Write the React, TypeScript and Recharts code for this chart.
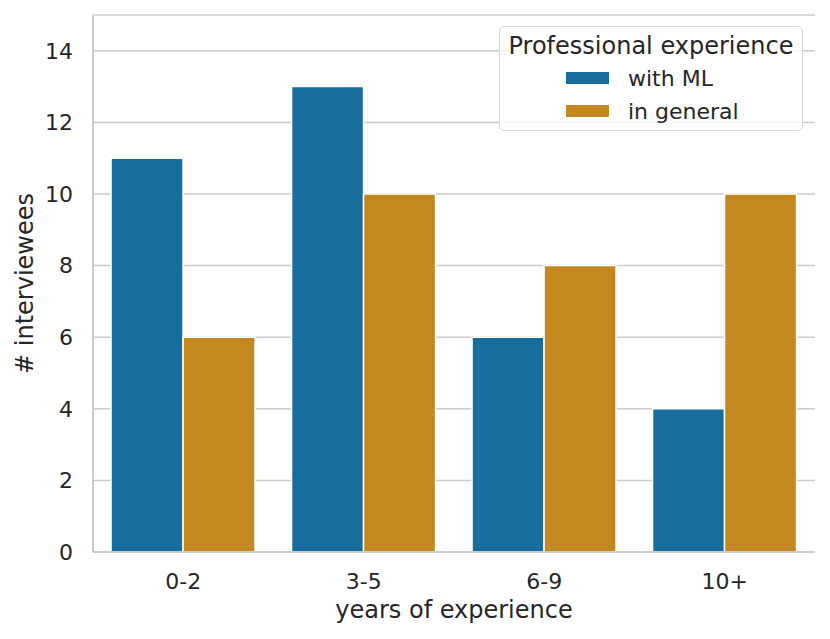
import React from 'react';
import { BarChart, Bar, XAxis, YAxis, CartesianGrid } from 'recharts';

const categories = ['0-2', '3-5', '6-9', '10+'];
const withML = [11, 13, 6, 4];
const inGeneral = [6, 10, 8, 10];
const yTicks = [0, 2, 4, 6, 8, 10, 12, 14];
const seriesNames = ['with ML', 'in general'];
const seriesColors = ['#176d9c', '#c38820'];
const legendTitle = 'Professional experience';

const data = categories.map((c, i) => ({ cat: c, withML: withML[i], inGeneral: inGeneral[i] }));

const FONT = '"DejaVu Sans", sans-serif';
const TEXT = '#262626';
const GRID = '#cccccc';

const LegendBox = () => (
  <div
    style={{
      position: 'absolute',
      left: 499,
      top: 26,
      width: 302,
      height: 103,
      border: '1.5px solid #d9d9d9',
      borderRadius: 5,
      background: 'rgba(255,255,255,0.8)',
      fontFamily: FONT,
      color: TEXT,
      boxSizing: 'content-box',
    }}
  >
    <div style={{ position: 'absolute', left: 0, width: '100%', top: 4, textAlign: 'center', fontSize: 24, lineHeight: '30px' }}>
      {legendTitle}
    </div>
    {seriesNames.map((n, i) => (
      <div key={i} style={{ position: 'absolute', left: 66, top: 36 + i * 33, height: 30, display: 'flex', alignItems: 'center' }}>
        <div style={{ width: 43, height: 12, background: seriesColors[i], marginRight: 19 }} />
        <span style={{ fontSize: 22 }}>{n}</span>
      </div>
    ))}
  </div>
);

export default function App() {
  return (
    <div style={{ position: 'absolute', left: 0, top: 0, width: 830, height: 639, background: '#fff' }}>
      <BarChart
        width={830}
        height={639}
        data={data}
        margin={{ top: 15, right: 15, left: 0, bottom: 0 }}
        barCategoryGap="10%"
        barGap={0}
        style={{ fontFamily: FONT }}
      >
        <CartesianGrid vertical={false} stroke={GRID} strokeWidth={1.5} />
        <XAxis
          dataKey="cat"
          height={87}
          axisLine={{ stroke: GRID, strokeWidth: 2 }}
          tickLine={false}
          tickSize={0}
          tickMargin={21}
          tick={{ fill: TEXT, fontSize: 22, fontFamily: FONT }}
          label={{ value: 'years of experience', position: 'insideBottom', offset: 21, style: { fill: TEXT, fontSize: 24, fontFamily: FONT } }}
        />
        <XAxis xAxisId="top" dataKey="cat" orientation="top" height={0} tick={false} tickLine={false} axisLine={{ stroke: GRID, strokeWidth: 2 }} />
        <YAxis
          width={93}
          domain={[0, 15]}
          ticks={yTicks}
          interval={0}
          axisLine={{ stroke: GRID, strokeWidth: 2 }}
          tickLine={false}
          tickSize={0}
          tickMargin={20}
          tick={{ fill: TEXT, fontSize: 22, fontFamily: FONT }}
          label={{ value: '# interviewees', angle: -90, position: 'insideLeft', offset: 24, style: { textAnchor: 'middle', fill: TEXT, fontSize: 24, fontFamily: FONT } }}
        />
        <YAxis yAxisId="right" orientation="right" width={0} domain={[0, 15]} tick={false} tickLine={false} axisLine={{ stroke: GRID, strokeWidth: 2 }} />
        <Bar dataKey="withML" name={seriesNames[0]} fill={seriesColors[0]} stroke="#ffffff" strokeWidth={1.5} isAnimationActive={false} />
        <Bar dataKey="inGeneral" name={seriesNames[1]} fill={seriesColors[1]} stroke="#ffffff" strokeWidth={1.5} isAnimationActive={false} />
      </BarChart>
      <LegendBox />
    </div>
  );
}
